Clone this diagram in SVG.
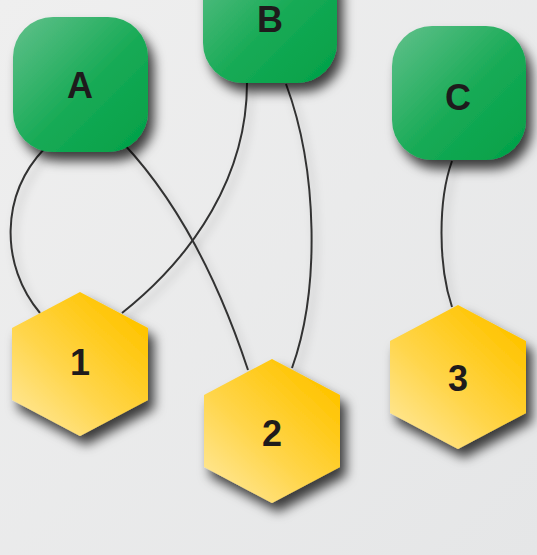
<svg xmlns="http://www.w3.org/2000/svg" width="537" height="555" viewBox="0 0 537 555">
<defs>
<linearGradient id="bg" x1="0" y1="0" x2="1" y2="1">
<stop offset="0" stop-color="#efefef"/>
<stop offset="1" stop-color="#e5e6e7"/>
</linearGradient>
<linearGradient id="green" x1="0" y1="0" x2="1" y2="1">
<stop offset="0" stop-color="#62c18c"/>
<stop offset="0.55" stop-color="#17aa55"/>
<stop offset="1" stop-color="#00a047"/>
</linearGradient>
<linearGradient id="yellow" x1="0" y1="1" x2="0.8" y2="0.1">
<stop offset="0" stop-color="#ffeba6"/>
<stop offset="0.5" stop-color="#ffd54a"/>
<stop offset="1" stop-color="#ffc400"/>
</linearGradient>
<filter id="shadow" x="-30%" y="-30%" width="170%" height="170%">
<feDropShadow dx="6" dy="9" stdDeviation="6" flood-color="#000" flood-opacity="0.75"/>
</filter>
<filter id="lshadow" x="-30%" y="-30%" width="170%" height="170%">
<feDropShadow dx="4" dy="6" stdDeviation="4" flood-color="#000" flood-opacity="0.25"/>
</filter>
</defs>
<style>
.edge{fill:none;stroke:#333;stroke-width:2}
.rnode{fill:url(#green);filter:url(#shadow)}
.hnode{fill:url(#yellow);filter:url(#shadow)}
.lbl{font-family:"Liberation Sans",Arial,sans-serif;font-weight:bold;font-size:36px;fill:#1e1b1c;text-anchor:middle;dominant-baseline:central}
</style>
<rect x="0" y="0" width="537" height="555" fill="url(#bg)"/>
<g id="connectors" filter="url(#lshadow)">
<path class="edge" d="M45,148 C0,195 0,265 40,313"/>
<path class="edge" d="M123,143 Q200,225 248,370"/>
<path class="edge" d="M247,83 C247,175 195,255 122,313"/>
<path class="edge" d="M286,84 C318,170 320,290 292,368"/>
<path class="edge" d="M452,161 C438,200 438,265 452,307"/>
</g>
<g id="node-A">
<rect class="rnode" x="13" y="17" width="135" height="135" rx="40"/>
<text class="lbl" x="80" y="85">A</text>
</g>
<g id="node-B">
<rect class="rnode" x="203" y="-52" width="134" height="135" rx="40"/>
<text class="lbl" x="270" y="19">B</text>
</g>
<g id="node-C">
<rect class="rnode" x="392" y="26" width="134" height="134" rx="40"/>
<text class="lbl" x="458" y="97">C</text>
</g>
<g id="node-1">
<polygon class="hnode" points="80,292 148,328 148,400 80,436 12,400 12,328"/>
<text class="lbl" x="80" y="362">1</text>
</g>
<g id="node-2">
<polygon class="hnode" points="272,359 340,395 340,467 272,503 204,467 204,395"/>
<text class="lbl" x="272" y="433">2</text>
</g>
<g id="node-3">
<polygon class="hnode" points="458,305 526,341 526,413 458,449 390,413 390,341"/>
<text class="lbl" x="458" y="378">3</text>
</g>
</svg>
